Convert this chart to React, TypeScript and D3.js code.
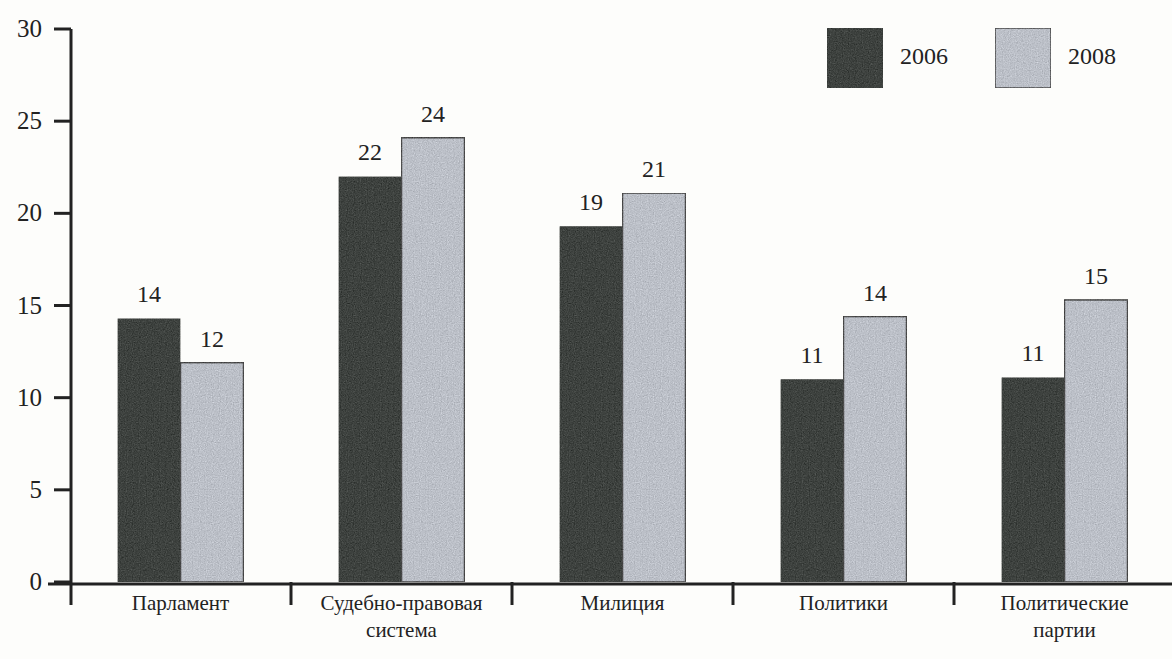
import React from "react";
import * as d3 from "d3";

const categories = ["Парламент", "Судебно-правовая\nсистема", "Милиция", "Политики", "Политические\nпартии"];
const seriesNames = ["2006", "2008"];
const values2006 = [14.3, 22.0, 19.3, 11.0, 11.1];
const values2008 = [11.9, 24.1, 21.1, 14.4, 15.3];
const labels2006 = [14, 22, 19, 11, 11];
const labels2008 = [12, 24, 21, 14, 15];
const yTicks = [0, 5, 10, 15, 20, 25, 30];

const W = 1172;
const H = 659;
const FONT = "'Liberation Serif', 'DejaVu Serif', serif";
const DARK = "#3e423f";
const LIGHT = "#bcc0c8";

export default function App() {
  const x0 = d3.scaleBand<string>().domain(categories).range([70, 70 + 5 * 221]).paddingInner(0).paddingOuter(0);
  const x1 = d3.scaleBand<string>().domain(seriesNames).range([0, x0.bandwidth()]).paddingInner(0).paddingOuter(0.754);
  const y = d3.scaleLinear().domain([0, 30]).range([582, 29]);

  const data = categories.map((c, i) => ({
    c,
    vals: [
      { s: "2006", v: values2006[i], l: labels2006[i] },
      { s: "2008", v: values2008[i], l: labels2008[i] },
    ],
  }));

  const axisX = 71;
  return (
    <svg width={W} height={H} style={{ position: "absolute", left: 0, top: 0, background: "#fdfdfb" }}>
      <defs>
        <filter id="grain" x="0" y="0" width="100%" height="100%" colorInterpolationFilters="sRGB">
          <feTurbulence type="fractalNoise" baseFrequency="0.85" numOctaves="2" seed="3" result="noise" />
          <feColorMatrix in="noise" type="matrix" values="0.33 0.33 0.33 0 0  0.33 0.33 0.33 0 0  0.33 0.33 0.33 0 0  0 0 0 0 1" result="gray" />
          <feComposite in="SourceGraphic" in2="gray" operator="arithmetic" k1="0" k2="1" k3="0.4" k4="-0.2" result="mix" />
          <feComposite in="mix" in2="SourceGraphic" operator="in" />
        </filter>
      </defs>
      <rect x={0} y={0} width={W} height={H} fill="#fdfdfb" />

      {/* bars */}
      {data.map((d) => (
        <g key={d.c} transform={`translate(${x0(d.c)},0)`}>
          {d.vals.map((b) => (
            <g key={b.s}>
              <rect
                x={x1(b.s)}
                y={y(b.v)}
                width={x1.bandwidth()}
                height={y(0) - y(b.v)}
                fill={b.s === "2006" ? DARK : LIGHT}
                stroke={b.s === "2006" ? "none" : "#4a4a4a"}
                strokeWidth={1.5}
                filter="url(#grain)"
              />
              <text
                x={(x1(b.s) as number) + x1.bandwidth() / 2}
                y={y(b.v) - 16}
                textAnchor="middle"
                fontFamily={FONT}
                fontSize={24}
                fill="#222"
              >
                {b.l}
              </text>
            </g>
          ))}
        </g>
      ))}

      {/* y axis */}
      <line x1={axisX} x2={axisX} y1={y(30)} y2={605} stroke="#222" strokeWidth={3} />
      {yTicks.map((t) => (
        <g key={t}>
          <line x1={54} x2={axisX} y1={y(t)} y2={y(t)} stroke="#222" strokeWidth={3} />
          <text x={42} y={y(t) + 8} textAnchor="end" fontFamily={FONT} fontSize={25} fill="#222">
            {t}
          </text>
        </g>
      ))}

      {/* x axis */}
      <line x1={48} x2={W} y1={y(0) + 2} y2={y(0) + 2} stroke="#222" strokeWidth={3} />
      {categories.map((c, i) =>
        i === 0 ? null : (
          <line key={c} x1={x0(c)} x2={x0(c)} y1={y(0)} y2={605} stroke="#222" strokeWidth={3} />
        )
      )}
      {categories.map((c) => {
        const lines = c.split("\n");
        const cx = (x0(c) as number) + x0.bandwidth() / 2;
        return (
          <text key={c} textAnchor="middle" fontFamily={FONT} fontSize={21} fill="#222">
            {lines.map((ln, j) => (
              <tspan key={j} x={cx} y={610 + j * 27}>
                {ln}
              </tspan>
            ))}
          </text>
        );
      })}

      {/* legend */}
      {seriesNames.map((s, i) => {
        const lx = 827 + i * 168;
        return (
          <g key={s}>
            <rect x={lx} y={28} width={56} height={60} fill={i === 0 ? DARK : LIGHT} stroke={i === 0 ? "none" : "#4a4a4a"} strokeWidth={1.5} filter="url(#grain)" />
            <text x={lx + 73} y={64} fontFamily={FONT} fontSize={24} fill="#222">
              {s}
            </text>
          </g>
        );
      })}
    </svg>
  );
}
